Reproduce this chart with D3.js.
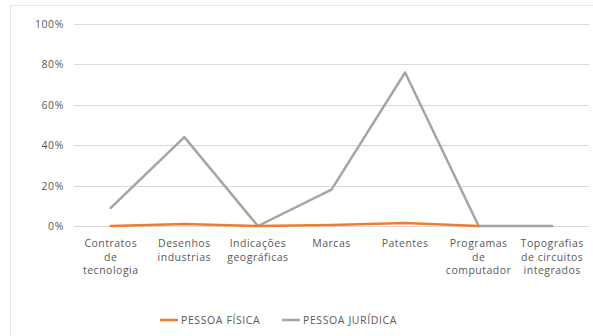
<!DOCTYPE html>
<html><head><meta charset="utf-8">
<script src="https://cdn.jsdelivr.net/npm/d3@7"></script>
<style>body{margin:0;background:#fff}svg{display:block;font-family:"Open Sans",sans-serif}</style>
</head><body><svg id="c" width="593" height="336"></svg>
<script>
const categories = ["Contratos de tecnologia","Desenhos industrias","Indicações geográficas","Marcas","Patentes","Programas de computador","Topografias de circuitos integrados"];
const labelLines = [["Contratos","de","tecnologia"],["Desenhos","industrias"],["Indicações","geográficas"],["Marcas"],["Patentes"],["Programas","de","computador"],["Topografias","de circuitos","integrados"]];
const pessoaFisica = [0, 0.01, 0, 0.005, 0.015, 0, null];
const pessoaJuridica = [0.09, 0.44, 0, 0.18, 0.76, 0, 0];
const yTicks = [0, 0.2, 0.4, 0.6, 0.8, 1.0];
const seriesNames = ["PESSOA FÍSICA","PESSOA JURÍDICA"];
const colors = ["#ED7D31","#A5A5A5"];

const svg = d3.select("#c");
svg.append("rect").attr("x",10.5).attr("y",5.5).attr("width",590).attr("height",340).attr("fill","#fff").attr("stroke","#e6e6e6");
const m = {l:74, r:589, t:24, b:226};
const x = d3.scaleBand().domain(categories).range([m.l, m.r]);
const y = d3.scaleLinear().domain([0,1]).range([m.b, m.t]);

const g = svg.append("g");
g.selectAll("line.grid").data(yTicks).join("line")
  .attr("x1",m.l).attr("x2",m.r).attr("y1",d=>Math.round(y(d))+0.5).attr("y2",d=>Math.round(y(d))+0.5)
  .attr("stroke","#d9d9d9").attr("stroke-width",1);
g.selectAll("text.yt").data(yTicks).join("text")
  .attr("x",64).attr("y",d=>y(d)+4).attr("text-anchor","end")
  .attr("font-size",10.5).attr("letter-spacing",0.6).attr("fill","#595959").text(d3.format(".0%"));

categories.forEach((c,i)=>{
  const t = g.append("text").attr("text-anchor","middle").attr("font-size",10.5).attr("letter-spacing",0.5).attr("fill","#595959");
  labelLines[i].forEach((ln,j)=>{
    t.append("tspan").attr("x",x(c)+x.bandwidth()/2).attr("y",247+j*13.5).text(ln);
  });
});

const line = d3.line().defined(d=>d.v!=null).x(d=>x(d.c)+x.bandwidth()/2).y(d=>y(d.v));
[pessoaJuridica, pessoaFisica].forEach((s,k)=>{
  const idx = k===0?1:0;
  g.append("path").datum(categories.map((c,i)=>({c,v:s[i]})))
   .attr("d",line).attr("fill","none").attr("stroke",colors[idx]).attr("stroke-width",2.5).attr("stroke-linejoin","round").attr("stroke-linecap","round");
});

const leg = [{x:160,tx:181},{x:282,tx:303}];
seriesNames.forEach((n,i)=>{
  g.append("line").attr("x1",leg[i].x).attr("x2",leg[i].x+18).attr("y1",320).attr("y2",320).attr("stroke",colors[i]).attr("stroke-width",2.5);
  g.append("text").attr("x",leg[i].tx).attr("y",324).attr("font-size",10.5).attr("letter-spacing",0.6).attr("fill","#595959").text(n);
});
</script></body></html>
